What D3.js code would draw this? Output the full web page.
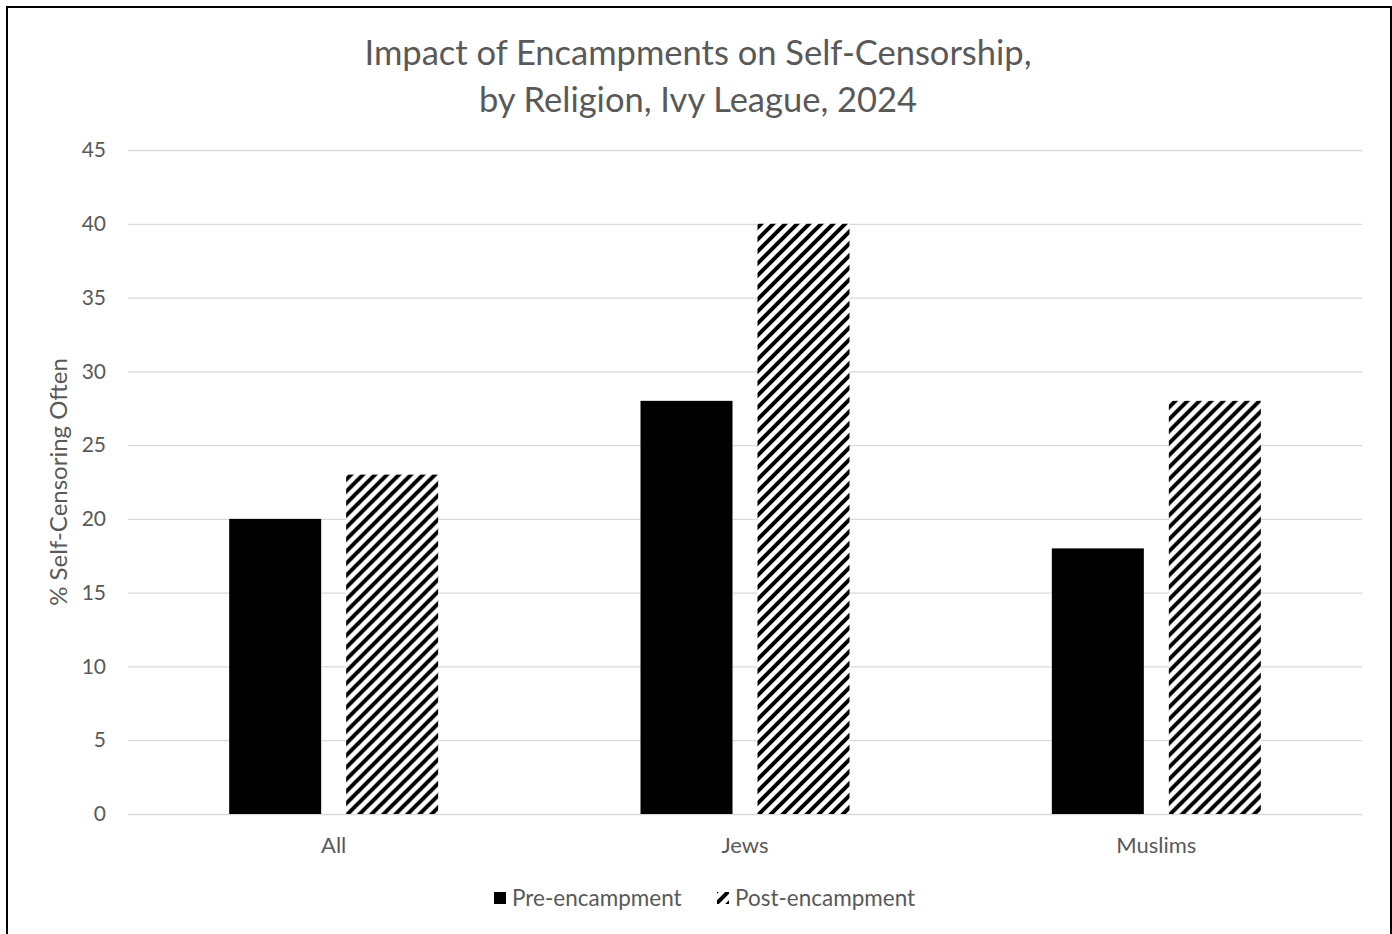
<!DOCTYPE html>
<html>
<head>
<meta charset="utf-8">
<script src="https://cdn.jsdelivr.net/npm/d3@7"></script>
<style>
  html, body { margin: 0; padding: 0; background: #fff; }
  svg { display: block; }
  text { font-family: Lato, "Open Sans", sans-serif; fill: #595959; }
</style>
</head>
<body>
<svg id="chart" width="1392" height="934"></svg>
<script>
// Chart data
const categories = ["All", "Jews", "Muslims"];
const seriesNames = ["Pre-encampment", "Post-encampment"];
const preValues = [20, 28, 18];
const postValues = [23, 40, 28];
const yTicks = [0, 5, 10, 15, 20, 25, 30, 35, 40, 45];
const titleLines = ["Impact of Encampments on Self-Censorship,", "by Religion, Ivy League, 2024"];
const yAxisTitle = "% Self-Censoring Often";

const svg = d3.select("#chart");
const margin = { left: 128, top: 150 };
const plotRight = 1362, plotBottom = 814;
const FONT = "Lato, 'Open Sans', sans-serif";

// Diagonal hatch for the post-encampment series
const defs = svg.append("defs");
const pat = defs.append("pattern")
  .attr("id", "hatch")
  .attr("patternUnits", "userSpaceOnUse")
  .attr("width", 12).attr("height", 12);
pat.append("rect").attr("width", 12).attr("height", 12).attr("fill", "#fff");
pat.append("path")
  .attr("d", "M0,12 L12,0 M-6,6 L6,-6 M6,18 L18,6")
  .attr("stroke", "#000").attr("stroke-width", 4);

// Outer frame
svg.append("rect")
  .attr("x", 7).attr("y", 7)
  .attr("width", 1384).attr("height", 960)
  .attr("fill", "none").attr("stroke", "#000").attr("stroke-width", 2);

const x0 = d3.scaleBand().domain(categories).range([margin.left, plotRight]);
const y = d3.scaleLinear().domain([0, 45]).range([plotBottom, margin.top]);

// Gridlines
svg.append("g").selectAll("line").data(yTicks).join("line")
  .attr("x1", margin.left).attr("x2", plotRight)
  .attr("y1", d => y(d) + 0.5).attr("y2", d => y(d) + 0.5)
  .attr("stroke", "#d9d9d9").attr("stroke-width", 1.3);

// Y axis labels
const yAxis = d3.axisLeft(y).tickValues(yTicks).tickSize(0).tickPadding(0);
const yg = svg.append("g").attr("transform", `translate(${margin.left - 22},0)`).call(yAxis);
yg.select(".domain").remove();
yg.selectAll("text").attr("font-size", 21).attr("fill", "#595959").style("font-family", FONT);

// X axis labels
const xAxis = d3.axisBottom(x0).tickSize(0).tickPadding(0);
const xg = svg.append("g").attr("transform", `translate(0,${plotBottom + 23})`).call(xAxis);
xg.select(".domain").remove();
xg.selectAll("text").attr("font-size", 22).attr("fill", "#595959").attr("dy", "0.71em")
  .style("font-family", FONT);

// Bars
const barW = 92, gap = 25;
const x1 = d3.scaleOrdinal().domain(seriesNames)
  .range([-(gap / 2 + barW), gap / 2]);
const rows = categories.map((c, i) => ({ cat: c, vals: [preValues[i], postValues[i]] }));
const groups = svg.append("g").selectAll("g").data(rows).join("g")
  .attr("transform", d => `translate(${x0(d.cat) + x0.bandwidth() / 2},0)`);
groups.selectAll("rect")
  .data(d => d.vals.map((v, j) => ({ s: seriesNames[j], v })))
  .join("rect")
  .attr("x", d => x1(d.s))
  .attr("width", barW)
  .attr("y", d => y(d.v))
  .attr("height", d => y(0) - y(d.v))
  .attr("fill", d => d.s === seriesNames[0] ? "#000" : "url(#hatch)");

// Title
const title = svg.append("text").attr("text-anchor", "middle")
  .attr("font-size", 34.5).attr("fill", "#595959");
titleLines.forEach((t, i) => {
  title.append("tspan").attr("x", 698).attr("y", 65 + i * 47).text(t);
});

// Y axis title
svg.append("text")
  .attr("transform", `translate(67,${(y(0) + y(45)) / 2}) rotate(-90)`)
  .attr("text-anchor", "middle").attr("font-size", 24).attr("fill", "#595959")
  .text(yAxisTitle);

// Legend
const legend = svg.append("g");
const legendItems = [
  { name: seriesNames[0], x: 494, fill: "#000" },
  { name: seriesNames[1], x: 717, fill: "url(#hatch)" }
];
legendItems.forEach(it => {
  legend.append("rect").attr("x", it.x).attr("y", 892).attr("width", 12).attr("height", 12)
    .attr("fill", it.fill);
  legend.append("text").attr("x", it.x + 18).attr("y", 906)
    .attr("font-size", 22.5).attr("fill", "#595959").text(it.name);
});
</script>
</body>
</html>
